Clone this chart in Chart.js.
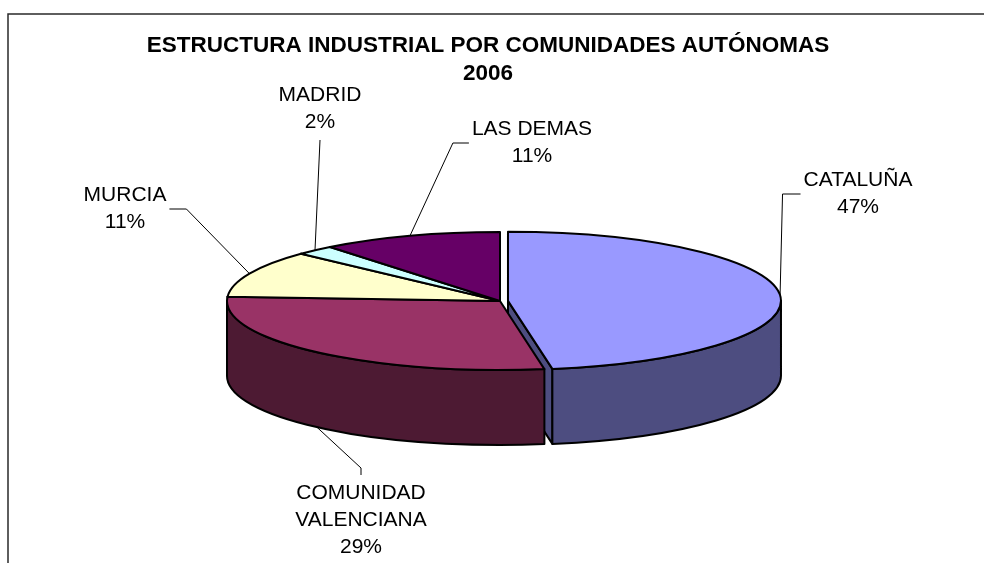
<!DOCTYPE html>
<html>
<head>
<meta charset="utf-8">
<script src="https://cdn.jsdelivr.net/npm/chart.js@4.4.1/dist/chart.umd.min.js"></script>
<style>
  html, body { margin: 0; padding: 0; background: #fff; overflow: hidden; }
  canvas { display: block; }
</style>
</head>
<body>
<canvas id="pie" width="984" height="563"></canvas>
<script>
const titleLines = ["ESTRUCTURA INDUSTRIAL POR COMUNIDADES AUTÓNOMAS", "2006"];
const regions = [["CATALUÑA"], ["COMUNIDAD", "VALENCIANA"], ["MURCIA"], ["MADRID"], ["LAS DEMAS"]];
const shares = [47.4, 28.6, 11.0, 2.3, 10.7];
const topColors = ["#9999FF", "#993366", "#FFFFCC", "#CCFFFF", "#660066"];
const explode = [8, 0, 0, 0, 0];

// where each label block sits, and which side its leader line meets
const labelSpots = [
  { x: 858, y: 194, side: "left", hook: 18 },
  { x: 361, y: 520, side: "top", hook: 7 },
  { x: 125, y: 209, side: "right", hook: 17 },
  { x: 320, y: 109, side: "bottom", hook: 0 },
  { x: 532, y: 143, side: "left", hook: 16 },
];

const TILT = 69 / 273;   // ry / rx of the top face
const DEPTH = 75;        // thickness of the pie
const FONT = "'Liberation Sans', Arial, sans-serif";

function shade(hex, f) {
  const n = parseInt(hex.slice(1), 16);
  const r = Math.round(((n >> 16) & 255) * f);
  const g = Math.round(((n >> 8) & 255) * f);
  const b = Math.round((n & 255) * f);
  return `rgb(${r},${g},${b})`;
}

const pie3d = {
  id: "pie3d",
  beforeDraw(chart) {
    const ctx = chart.ctx;
    ctx.save();
    ctx.fillStyle = "#fff";
    ctx.fillRect(0, 0, chart.width, chart.height);
    ctx.strokeStyle = "#2a2a2a";
    ctx.lineWidth = 1.5;
    ctx.beginPath();
    ctx.moveTo(8, chart.height);
    ctx.lineTo(8, 14);
    ctx.lineTo(chart.width, 14);
    ctx.stroke();

    // title, centred on the framed area rather than the pie
    ctx.fillStyle = "#000";
    ctx.font = `bold 22.5px ${FONT}`;
    ctx.textAlign = "center";
    ctx.textBaseline = "middle";
    titleLines.forEach((t, j) => ctx.fillText(t, 488, 46 + j * 28));
    ctx.restore();
  },
  beforeDatasetsDraw(chart) {
    const ctx = chart.ctx;
    const meta = chart.getDatasetMeta(0);
    const total = shares.reduce((a, b) => a + b, 0);

    const slices = meta.data.map((arc, i) => {
      const p = arc.getProps(["x", "y", "startAngle", "endAngle", "outerRadius"], true);
      const mid = (p.startAngle + p.endAngle) / 2;
      const off = arc.options.offset || 0;
      return {
        i,
        a0: p.startAngle,
        a1: p.endAngle,
        mid,
        rx: p.outerRadius,
        ry: p.outerRadius * TILT,
        cx: p.x + Math.cos(mid) * off,
        cy: p.y + Math.sin(mid) * off * TILT,
        top: topColors[i],
        side: shade(topColors[i], 0.5),
      };
    });

    ctx.save();
    ctx.lineWidth = 2;
    ctx.strokeStyle = "#000";
    ctx.lineJoin = "round";

    // cut faces that look toward the viewer, back ones first
    const walls = [];
    slices.forEach((s) => {
      if (Math.cos(s.a0) < -1e-6) walls.push([s, s.a0]);
      if (Math.cos(s.a1) > 1e-6) walls.push([s, s.a1]);
    });
    walls.sort((p, q) => Math.sin(p[1]) - Math.sin(q[1]));
    walls.forEach(([s, a]) => {
      const ex = s.cx + s.rx * Math.cos(a);
      const ey = s.cy + s.ry * Math.sin(a);
      ctx.beginPath();
      ctx.moveTo(s.cx, s.cy);
      ctx.lineTo(ex, ey);
      ctx.lineTo(ex, ey + DEPTH);
      ctx.lineTo(s.cx, s.cy + DEPTH);
      ctx.closePath();
      ctx.fillStyle = s.side;
      ctx.fill();
      ctx.stroke();
    });

    // rim, front half only
    slices.forEach((s) => {
      const a = Math.max(s.a0, 0);
      const b = Math.min(s.a1, Math.PI);
      if (b <= a) return;
      ctx.beginPath();
      ctx.ellipse(s.cx, s.cy, s.rx, s.ry, 0, a, b);
      ctx.ellipse(s.cx, s.cy + DEPTH, s.rx, s.ry, 0, b, a, true);
      ctx.closePath();
      ctx.fillStyle = s.side;
      ctx.fill();
      ctx.stroke();
    });

    // top faces
    slices.forEach((s) => {
      ctx.beginPath();
      ctx.moveTo(s.cx, s.cy);
      ctx.ellipse(s.cx, s.cy, s.rx, s.ry, 0, s.a0, s.a1);
      ctx.closePath();
      ctx.fillStyle = s.top;
      ctx.fill();
      ctx.stroke();
    });

    // labels + leader lines
    const lineH = 27;
    ctx.font = `21px ${FONT}`;
    ctx.textAlign = "center";
    ctx.textBaseline = "middle";
    slices.forEach((s) => {
      const spot = labelSpots[s.i];
      const lines = [...regions[s.i], Math.round((shares[s.i] / total) * 100) + "%"];
      const w = Math.max(...lines.map((t) => ctx.measureText(t).width));
      const blockTop = spot.y - (lines.length * lineH) / 2;

      let ax = s.cx + s.rx * Math.cos(s.mid);
      let ay = s.cy + s.ry * Math.sin(s.mid);
      if (Math.sin(s.mid) > 0) ay += DEPTH;

      let ex, ey, bx, by;
      if (spot.side === "left") {
        ex = spot.x - w / 2 - 3; ey = spot.y; bx = ex - spot.hook; by = ey;
      } else if (spot.side === "right") {
        ex = spot.x + w / 2 + 3; ey = spot.y; bx = ex + spot.hook; by = ey;
      } else if (spot.side === "top") {
        ex = spot.x; ey = blockTop - 4.5; bx = ex; by = ey - spot.hook;
      } else {
        ex = spot.x; ey = blockTop + lines.length * lineH + 4; bx = ex; by = ey + spot.hook;
      }
      ctx.beginPath();
      ctx.lineWidth = 1;
      ctx.moveTo(ax, ay);
      ctx.lineTo(bx, by);
      ctx.lineTo(ex, ey);
      ctx.stroke();

      ctx.fillStyle = "#000";
      lines.forEach((t, j) => ctx.fillText(t, spot.x, blockTop + lineH * (j + 0.5)));
    });

    ctx.restore();
    return false;
  },
};

new Chart(document.getElementById("pie"), {
  type: "pie",
  data: {
    labels: regions,
    datasets: [{
      data: shares,
      backgroundColor: topColors,
      offset: explode,
      radius: 273,
      borderColor: "#000",
      borderWidth: 2,
    }],
  },
  options: {
    responsive: false,
    animation: false,
    devicePixelRatio: 1,
    layout: { padding: { left: 16, right: 0, top: 88, bottom: 49 } },
    plugins: {
      legend: { display: false },
      tooltip: { enabled: false },
      title: { display: false },
    },
  },
  plugins: [pie3d],
});
</script>
</body>
</html>
